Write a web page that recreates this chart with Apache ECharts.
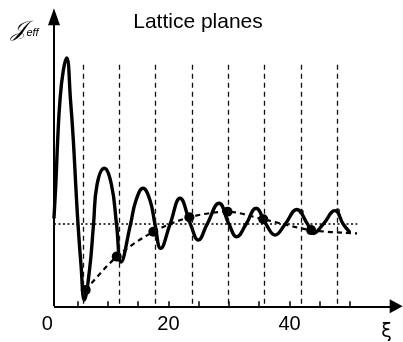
<!DOCTYPE html>
<html>
<head>
<meta charset="utf-8">
<script src="https://cdn.jsdelivr.net/npm/echarts@6/dist/echarts.min.js"></script>
<style>html,body{margin:0;padding:0;background:#fff;}#c{width:403px;height:342px;}</style>
</head>
<body>
<div id="c"></div>
<script>
// ---- data ----
const curveXi = [1.09,1.42,1.70,2.08,2.63,3.19,3.82,4.28,4.73,5.06,5.55,6.10,6.96,7.62,8.20,9.40,10.59,11.42,12.16,13.73,14.64,15.80,16.95,17.78,18.72,20.26,21.91,23.65,24.93,26.37,28.35,30.01,31.28,32.82,34.47,36.12,37.61,39.26,41.2,43.0,43.93,45.54,47.52,48.89,49.88];
const curveJ  = [1.07,1.52,2.01,2.49,2.85,3.00,2.49,2.01,1.40,0.99,0.50,0.076,0.44,0.99,1.47,1.667,1.465,0.99,0.535,0.99,1.28,1.425,1.28,0.99,0.70,0.99,1.304,0.99,0.80,0.99,1.244,0.99,0.84,0.99,1.184,0.99,0.86,0.99,1.169,0.99,0.88,0.99,1.155,0.99,0.90];
const envXi = [6.33,11.45,17.50,23.45,29.76,35.67,43.56,51.16];
const envJ  = [0.197,0.60,0.90,1.075,1.143,1.051,0.92,0.88];
const envDot = [true,true,true,true,true,true,true,false];
const planeXi = [5.9,11.85,17.9,23.85,29.9,35.9,41.9,47.85];
const smallDotXi = [41.95,47.95];
const smallDotJ  = [1.142,1.155];
const meanJ = 1.0;
const xTickValues = [5,10,15,20,25,30,35,40,45,50];
const xLabelValues = [0,20,40];
const axisOriginXi = 1.09;
const xMax = 58.7, yMax = 3.6;
const planeTop = 2.96, meanEnd = 51.2;
const titleText = 'Lattice planes';

const chart = echarts.init(document.getElementById('c'), null, {renderer:'canvas'});
const black = '#000';
const vLines = planeXi.map(x => [{coord:[x,0.03]},{coord:[x,planeTop]}]);

chart.setOption({
  animation:false,
  backgroundColor:'#fff',
  grid:{left:47.4, right:0.3, top:8.2, bottom:35.7, containLabel:false},
  xAxis:{type:'value', min:0, max:xMax, interval:5,
    axisLine:{show:false}, splitLine:{show:false},
    axisTick:{show:true, inside:true, length:5, customValues:xTickValues, lineStyle:{color:black, width:1.5}},
    axisLabel:{show:true, customValues:xLabelValues, fontSize:20, color:black, fontFamily:'Liberation Sans, Arial, sans-serif', margin:8}
  },
  yAxis:{type:'value', min:0, max:yMax, show:false},
  series:[
    {type:'line', data:[], silent:true,
      markLine:{silent:true, symbol:'none', label:{show:false},
        lineStyle:{color:'#111', width:1.3, type:[5,4]},
        data:vLines}},
    {type:'line', data:[], silent:true,
      markLine:{silent:true, symbol:'none', label:{show:false},
        lineStyle:{color:black, width:1.5, type:[2,2.5]},
        data:[[{coord:[axisOriginXi,meanJ]},{coord:[meanEnd,meanJ]}]]}},
    {type:'line', data:[], silent:true,
      markLine:{silent:true, label:{show:false}, symbol:['none','triangle'],
        lineStyle:{color:black, width:2, type:'solid'},
        data:[
          [{coord:[axisOriginXi,0], symbol:'none'},{coord:[xMax-6.5/6.052,0], symbol:'triangle', symbolSize:[14,13]}],
          [{coord:[axisOriginXi,0], symbol:'none'},{coord:[axisOriginXi,yMax-8.5/82.8], symbol:'triangle', symbolSize:[12,17]}]
        ],
        itemStyle:{color:black}}},
    {type:'line', name:'env', data:envXi.map((x,i)=>({value:[x,envJ[i]], symbol: envDot[i]?'circle':'none'})),
      smooth:0.3, symbol:'circle', symbolSize:10, showSymbol:true,
      lineStyle:{color:black, width:2.2, type:[5,4]}, itemStyle:{color:black}, z:3},
    {type:'line', name:'J', data:curveXi.map((x,i)=>[x,curveJ[i]]), smooth:0.45, showSymbol:false,
      lineStyle:{color:black, width:3.4, cap:'round', join:'round'}, z:4},
    {type:'scatter', data:smallDotXi.map((x,i)=>[x,smallDotJ[i]]), symbolSize:5, itemStyle:{color:black}, z:5}
  ],
  graphic:[
    {type:'text', x:198, y:22, style:{text:titleText, font:'21px "Liberation Sans", Arial, sans-serif', fill:black, textAlign:'center', textVerticalAlign:'middle'}},
    {type:'text', x:18.5, y:30, style:{text:'𝒥', font:'italic 22px "DejaVu Serif", serif', fill:black, textAlign:'center', textVerticalAlign:'middle'}},
    {type:'text', x:32.5, y:33, style:{text:'eff', font:'italic 11px "Liberation Sans", Arial, sans-serif', fill:black, textAlign:'center', textVerticalAlign:'middle'}},
    {type:'text', x:386.5, y:332, style:{text:'ξ', font:'19px "DejaVu Sans", sans-serif', fill:black, textAlign:'center', textVerticalAlign:'middle'}}
  ]
});
</script>
</body>
</html>
